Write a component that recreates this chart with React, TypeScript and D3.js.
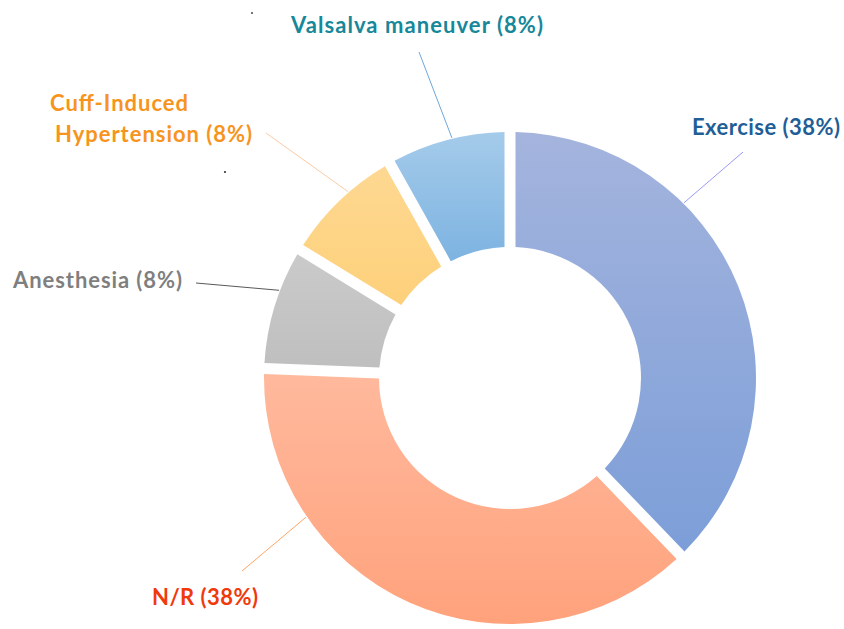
import * as d3 from "d3";
import { useEffect, useRef } from "react";

// slices, clockwise from 12 o'clock
const categories = ["Exercise", "N/R", "Anesthesia", "Cuff-Induced Hypertension", "Valsalva maneuver"];
const counts = [5, 5, 1, 1, 1];
const percentLabels = ["38%", "38%", "8%", "8%", "8%"];

const fillTop = ["#a4b4dd", "#ffb99d", "#cacaca", "#fed892", "#a5cbea"];
const fillBottom = ["#7c9ed8", "#ffa27c", "#bfbfbf", "#fdd07a", "#7db3e1"];
const textColors = ["#1f5e96", "#f03a0c", "#7f7f7f", "#f7941d", "#17879a"];
const leaderColors = ["#9a9af5", "#ffa565", "#595959", "#fbcba6", "#6fa7dc"];

// label placement: left x of each text line, first baseline, where the leader line
// leaves the label, and the angle in degrees where it touches the ring
const labelLayout = [
  { lines: ["Exercise (38%)"], xs: [692], y: 135, lx: 743, ly: 152, angle: 44.8 },
  { lines: ["N/R (38%)"], xs: [152], y: 605, lx: 242, ly: 571, angle: 235.7 },
  { lines: ["Anesthesia (8%)"], xs: [13], y: 288, lx: 196, ly: 283, angle: 290.8 },
  { lines: ["Cuff-Induced", "Hypertension (8%)"], xs: [50, 55], y: 111, lx: 266, ly: 133, angle: 319 },
  { lines: ["Valsalva maneuver (8%)"], xs: [291], y: 33, lx: 419, ly: 52, angle: 346.4 },
];
// widths of the labels in the source picture
const labelWidths = [[148], [106], [169], [138, 197], [252]];

const W = 844;
const H = 629;
const cx = 510;
const cy = 378;
const outerR = 246;
const innerR = 131;
const gap = 11;

const App = () => {
  const ref = useRef<SVGSVGElement | null>(null);

  useEffect(() => {
    const svg = d3.select(ref.current);
    svg.selectAll("*").remove();

    const data = categories.map((c, i) => ({ name: c, value: counts[i], i }));

    const pie = d3
      .pie<any>()
      .value((d) => d.value)
      .sort(null)
      .startAngle(0)
      .endAngle(2 * Math.PI)
      .padAngle(gap / outerR);

    const arc = d3
      .arc<any>()
      .innerRadius(innerR)
      .outerRadius(outerR)
      .padRadius(outerR);

    const defs = svg.append("defs");
    data.forEach((d) => {
      const g = defs
        .append("linearGradient")
        .attr("id", `grad-${d.i}`)
        .attr("x1", 0)
        .attr("y1", 0)
        .attr("x2", 0)
        .attr("y2", 1);
      g.append("stop").attr("offset", "0%").attr("stop-color", fillTop[d.i]);
      g.append("stop").attr("offset", "100%").attr("stop-color", fillBottom[d.i]);
    });

    const g = svg.append("g").attr("transform", `translate(${cx},${cy})`);

    g.selectAll("path.slice")
      .data(pie(data))
      .enter()
      .append("path")
      .attr("class", "slice")
      .attr("d", arc)
      .attr("fill", (d) => `url(#grad-${d.data.i})`);

    // leader lines
    labelLayout.forEach((l, i) => {
      const a = (l.angle * Math.PI) / 180;
      const ex = cx + Math.sin(a) * (outerR + 1);
      const ey = cy - Math.cos(a) * (outerR + 1);
      svg
        .append("line")
        .attr("x1", l.lx)
        .attr("y1", l.ly)
        .attr("x2", ex)
        .attr("y2", ey)
        .attr("stroke", leaderColors[i])
        .attr("stroke-width", 1);
    });

    // labels
    labelLayout.forEach((l, i) => {
      const t = svg
        .append("text")
        .attr("text-anchor", "start")
        .attr("font-family", "Lato, 'Open Sans', sans-serif")
        .attr("font-weight", "bold")
        .attr("font-size", 22)
        .attr("fill", textColors[i]);
      const lines = l.lines.length > 1 ? l.lines : [`${categories[i]} (${percentLabels[i]})`];
      lines.forEach((s, k) => {
        t.append("tspan")
          .attr("x", l.xs[k])
          .attr("y", l.y + k * 31)
          .attr("textLength", labelWidths[i][k])
          .attr("lengthAdjust", "spacing")
          .text(s);
      });
    });

    // two stray specks in the original image
    svg.append("circle").attr("cx", 252).attr("cy", 13).attr("r", 0.9).attr("fill", "#333");
    svg.append("circle").attr("cx", 225).attr("cy", 172).attr("r", 1.1).attr("fill", "#333");
  }, []);

  return (
    <svg
      ref={ref}
      width={W}
      height={H}
      style={{ position: "absolute", left: 0, top: 0, background: "#fff" }}
    ></svg>
  );
};

export default App;
